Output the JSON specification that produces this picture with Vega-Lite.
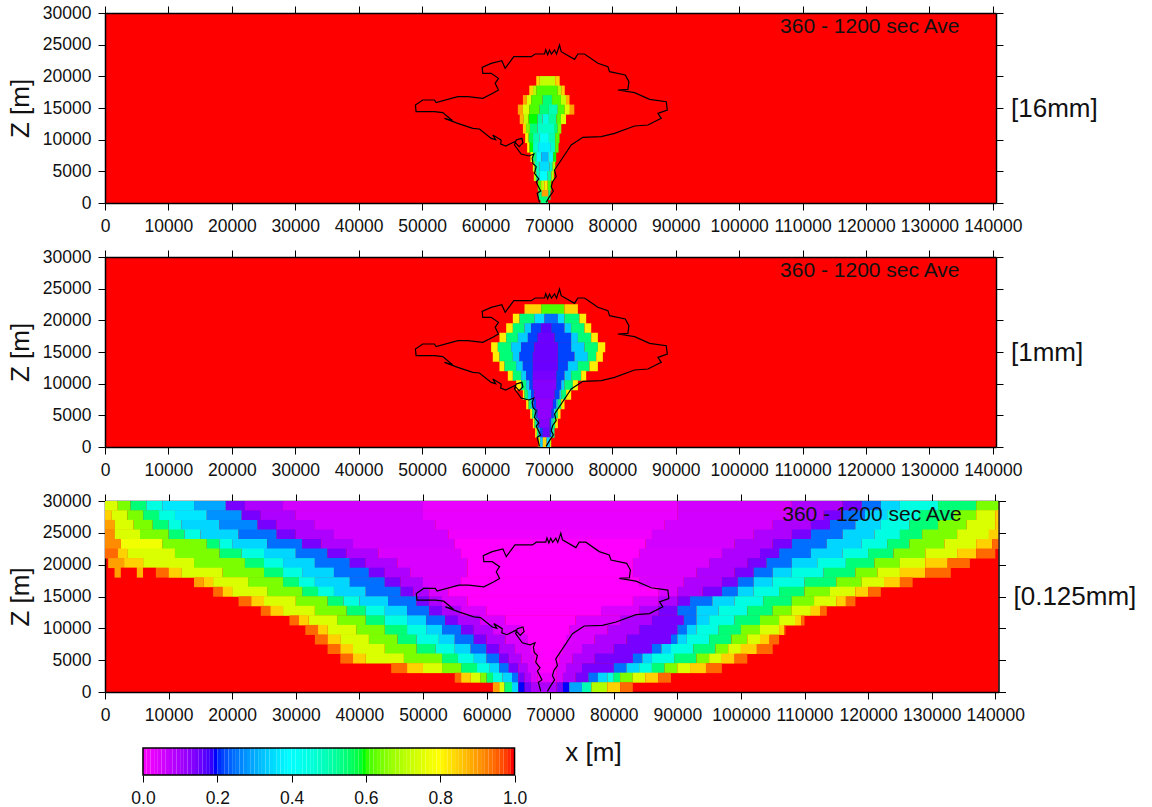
{"$schema":"https://vega.github.io/schema/vega-lite/v6.json","padding":{"left":7,"top":4,"right":0,"bottom":0},"background":"white","bounds":"flush","spacing":54,
"config":{"view":{"stroke":null},"font":"Liberation Sans","axis":{"grid":false,"domainColor":"#000","domainWidth":1.5,"tickColor":"#000","tickWidth":1,"tickSize":7,"labelColor":"#111","titleColor":"#111","labelFont":"Liberation Sans","titleFont":"Liberation Sans","labelFontSize":17.5,"titleFontSize":26,"titleFontWeight":"normal","labelOverlap":false,"labelFlush":false,"labelPadding":7}},
"datasets":{
"contour":[{"i":1,"x":68517,"z":100},{"i":2,"x":68149,"z":1527},{"i":2.5,"x":68700,"z":1900},{"i":3,"x":68359,"z":2580},{"i":3.5,"x":68000,"z":3300},{"i":3.7,"x":68400,"z":3800},{"i":4,"x":67728,"z":4685},{"i":5,"x":67991,"z":5738},{"i":5.5,"x":67500,"z":6200},{"i":6,"x":67360,"z":7054},{"i":7,"x":67623,"z":7738},{"i":8,"x":66834,"z":7422},{"i":9,"x":65624,"z":7738},{"i":10,"x":64572,"z":9158},{"i":11,"x":64835,"z":9948},{"i":12,"x":65729,"z":10211},{"i":12.5,"x":65900,"z":9500},{"i":12.7,"x":65300,"z":8900},{"i":13,"x":64572,"z":9685},{"i":13.5,"x":63200,"z":9000},{"i":13.7,"x":62400,"z":9300},{"i":14,"x":62468,"z":9948},{"i":15,"x":61153,"z":10738},{"i":15.5,"x":61600,"z":10000},{"i":15.7,"x":60900,"z":10200},{"i":16,"x":59049,"z":11685},{"i":17,"x":57997,"z":11790},{"i":18,"x":55630,"z":12580},{"i":19,"x":53526,"z":13369},{"i":19.5,"x":54800,"z":13000},{"i":20,"x":53263,"z":14264},{"i":21,"x":51948,"z":14422},{"i":22,"x":49055,"z":14422},{"i":23,"x":48950,"z":15474},{"i":24,"x":50107,"z":16264},{"i":25,"x":51948,"z":16264},{"i":26,"x":52211,"z":15843},{"i":27,"x":55630,"z":16790},{"i":28,"x":57208,"z":16790},{"i":29,"x":59575,"z":16527},{"i":30,"x":61153,"z":17316},{"i":31,"x":62047,"z":17843},{"i":32,"x":61521,"z":18895},{"i":33,"x":62047,"z":19685},{"i":34,"x":60890,"z":20474},{"i":35,"x":59575,"z":20474},{"i":36,"x":59470,"z":21422},{"i":37,"x":60890,"z":22053},{"i":38,"x":62573,"z":22474},{"i":39,"x":63099,"z":21263},{"i":40,"x":64467,"z":23106},{"i":41,"x":67202,"z":23106},{"i":42,"x":67833,"z":23527},{"i":43,"x":69306,"z":23527},{"i":43.3,"x":69500,"z":24200},{"i":43.5,"x":69800,"z":23400},{"i":44,"x":70095,"z":24158},{"i":44.5,"x":70400,"z":23500},{"i":45,"x":70884,"z":24158},{"i":45.5,"x":71200,"z":23500},{"i":46,"x":71673,"z":24948},{"i":47,"x":71936,"z":23895},{"i":48,"x":74040,"z":22685},{"i":49,"x":74566,"z":23527},{"i":50,"x":75618,"z":23527},{"i":51,"x":77722,"z":22053},{"i":52,"x":79300,"z":21527},{"i":53,"x":79563,"z":20737},{"i":54,"x":82035,"z":20211},{"i":55,"x":82614,"z":19158},{"i":56,"x":82456,"z":17948},{"i":57,"x":80878,"z":17842},{"i":58,"x":83508,"z":17421},{"i":59,"x":85875,"z":16369},{"i":60,"x":88505,"z":16000},{"i":61,"x":88663,"z":14685},{"i":62,"x":87190,"z":14158},{"i":63,"x":87716,"z":13369},{"i":64,"x":85612,"z":12316},{"i":65,"x":83508,"z":12158},{"i":66,"x":80352,"z":11000},{"i":67,"x":78248,"z":10474},{"i":68,"x":75355,"z":10369},{"i":69,"x":73514,"z":9158},{"i":70,"x":72988,"z":8369},{"i":71,"x":71410,"z":6000},{"i":72,"x":70884,"z":5211},{"i":73,"x":71147,"z":4158},{"i":73.5,"x":70600,"z":3400},{"i":74,"x":70358,"z":2580},{"i":74.5,"x":70700,"z":1900},{"i":75,"x":70095,"z":1000},{"i":76,"x":69569,"z":100}],
"note":[{"x":120600,"z":27800,"t":"360 - 1200 sec Ave"}],
"p1":[{"x":68000,"z":19250,"v":0.85},{"x":68500,"z":19250,"v":0.72},{"x":71000,"z":19250,"v":0.85},{"x":71700,"z":19250,"v":1},
{"x":66900,"z":17750,"v":0.85},{"x":67500,"z":17750,"v":0.7},{"x":68000,"z":17750,"v":0.62},{"x":71400,"z":17750,"v":0.7},{"x":72000,"z":17750,"v":0.85},{"x":72500,"z":17750,"v":1},
{"x":65900,"z":16250,"v":0.9},{"x":66500,"z":16250,"v":0.75},{"x":67200,"z":16250,"v":0.62},{"x":69000,"z":16250,"v":0.55},{"x":70500,"z":16250,"v":0.62},{"x":71900,"z":16250,"v":0.72},{"x":72700,"z":16250,"v":0.88},{"x":73250,"z":16250,"v":1},
{"x":65100,"z":14750,"v":0.9},{"x":65900,"z":14750,"v":0.75},{"x":66900,"z":14750,"v":0.62},{"x":68500,"z":14750,"v":0.55},{"x":70000,"z":14750,"v":0.5},{"x":71400,"z":14750,"v":0.62},{"x":72500,"z":14750,"v":0.75},{"x":73300,"z":14750,"v":0.9},{"x":74000,"z":14750,"v":1},
{"x":65400,"z":13250,"v":0.88},{"x":66000,"z":13250,"v":0.72},{"x":66800,"z":13250,"v":0.6},{"x":68200,"z":13250,"v":0.52},{"x":69000,"z":13250,"v":0.45},{"x":70000,"z":13250,"v":0.52},{"x":71200,"z":13250,"v":0.62},{"x":71900,"z":13250,"v":0.75},{"x":72700,"z":13250,"v":1},
{"x":65900,"z":11750,"v":0.85},{"x":66400,"z":11750,"v":0.65},{"x":67000,"z":11750,"v":0.55},{"x":68200,"z":11750,"v":0.48},{"x":70800,"z":11750,"v":0.55},{"x":71400,"z":11750,"v":0.65},{"x":71950,"z":11750,"v":1},
{"x":66250,"z":10250,"v":0.82},{"x":66800,"z":10250,"v":0.58},{"x":67500,"z":10250,"v":0.5},{"x":68500,"z":10250,"v":0.42},{"x":70000,"z":10250,"v":0.5},{"x":71000,"z":10250,"v":0.62},{"x":71670,"z":10250,"v":1},
{"x":66570,"z":8750,"v":0.8},{"x":66950,"z":8750,"v":0.6},{"x":67500,"z":8750,"v":0.48},{"x":68300,"z":8750,"v":0.38},{"x":70300,"z":8750,"v":0.48},{"x":71000,"z":8750,"v":0.62},{"x":71520,"z":8750,"v":1},
{"x":67100,"z":7250,"v":0.8},{"x":67500,"z":7250,"v":0.55},{"x":68000,"z":7250,"v":0.42},{"x":68800,"z":7250,"v":0.32},{"x":69900,"z":7250,"v":0.42},{"x":70700,"z":7250,"v":0.6},{"x":71150,"z":7250,"v":1},
{"x":67470,"z":5750,"v":0.75},{"x":67750,"z":5750,"v":0.5},{"x":68500,"z":5750,"v":0.36},{"x":70100,"z":5750,"v":0.5},{"x":70600,"z":5750,"v":0.68},{"x":71000,"z":5750,"v":1},
{"x":67620,"z":4250,"v":0.7},{"x":68000,"z":4250,"v":0.5},{"x":68500,"z":4250,"v":0.4},{"x":69800,"z":4250,"v":0.52},{"x":70400,"z":4250,"v":0.7},{"x":70780,"z":4250,"v":1},
{"x":68250,"z":2750,"v":0.62},{"x":68780,"z":2750,"v":0.72},{"x":69300,"z":2750,"v":0.82},{"x":69800,"z":2750,"v":0.62},{"x":70360,"z":2750,"v":1},
{"x":68360,"z":1250,"v":0.55},{"x":68880,"z":1250,"v":0.9},{"x":69900,"z":1250,"v":0.55},{"x":70250,"z":1250,"v":1},
{"x":68680,"z":250,"v":0.55},{"x":69830,"z":250,"v":1}],
"p2":[{"x":66150,"z":21750,"v":0.85},{"x":68780,"z":21750,"v":0.62},{"x":72460,"z":21750,"v":0.85},{"x":74570,"z":21750,"v":1},
{"x":64310,"z":20250,"v":0.82},{"x":65360,"z":20250,"v":0.55},{"x":67730,"z":20250,"v":0.36},{"x":69300,"z":20250,"v":0.25},{"x":71410,"z":20250,"v":0.36},{"x":72460,"z":20250,"v":0.55},{"x":74830,"z":20250,"v":0.82},{"x":75880,"z":20250,"v":1},
{"x":63260,"z":18750,"v":0.82},{"x":64310,"z":18750,"v":0.55},{"x":66150,"z":18750,"v":0.34},{"x":67200,"z":18750,"v":0.22},{"x":68780,"z":18750,"v":0.17},{"x":70360,"z":18750,"v":0.22},{"x":72460,"z":18750,"v":0.34},{"x":73510,"z":18750,"v":0.55},{"x":75620,"z":18750,"v":0.82},{"x":76670,"z":18750,"v":1},
{"x":62200,"z":17250,"v":0.82},{"x":63260,"z":17250,"v":0.55},{"x":65100,"z":17250,"v":0.34},{"x":66680,"z":17250,"v":0.22},{"x":68250,"z":17250,"v":0.16},{"x":70880,"z":17250,"v":0.22},{"x":73510,"z":17250,"v":0.34},{"x":74570,"z":17250,"v":0.55},{"x":76670,"z":17250,"v":0.82},{"x":77720,"z":17250,"v":1},
{"x":60890,"z":15750,"v":0.82},{"x":61940,"z":15750,"v":0.55},{"x":64050,"z":15750,"v":0.34},{"x":65620,"z":15750,"v":0.22},{"x":67730,"z":15750,"v":0.16},{"x":71410,"z":15750,"v":0.22},{"x":73510,"z":15750,"v":0.34},{"x":75620,"z":15750,"v":0.55},{"x":77720,"z":15750,"v":0.82},{"x":78880,"z":15750,"v":1},
{"x":61150,"z":14250,"v":0.82},{"x":62200,"z":14250,"v":0.55},{"x":64310,"z":14250,"v":0.34},{"x":65360,"z":14250,"v":0.22},{"x":67470,"z":14250,"v":0.16},{"x":71410,"z":14250,"v":0.22},{"x":74040,"z":14250,"v":0.34},{"x":76140,"z":14250,"v":0.55},{"x":77460,"z":14250,"v":0.82},{"x":78510,"z":14250,"v":1},
{"x":62200,"z":12750,"v":0.82},{"x":62990,"z":12750,"v":0.55},{"x":64830,"z":12750,"v":0.34},{"x":65890,"z":12750,"v":0.22},{"x":67470,"z":12750,"v":0.16},{"x":71410,"z":12750,"v":0.22},{"x":72990,"z":12750,"v":0.34},{"x":74570,"z":12750,"v":0.55},{"x":76410,"z":12750,"v":0.82},{"x":77720,"z":12750,"v":1},
{"x":63520,"z":11250,"v":0.82},{"x":64310,"z":11250,"v":0.55},{"x":65620,"z":11250,"v":0.34},{"x":66410,"z":11250,"v":0.22},{"x":67470,"z":11250,"v":0.15},{"x":71150,"z":11250,"v":0.22},{"x":72460,"z":11250,"v":0.34},{"x":73510,"z":11250,"v":0.55},{"x":75090,"z":11250,"v":0.82},{"x":75880,"z":11250,"v":1},
{"x":64830,"z":9750,"v":0.82},{"x":65620,"z":9750,"v":0.55},{"x":66410,"z":9750,"v":0.34},{"x":66940,"z":9750,"v":0.22},{"x":67470,"z":9750,"v":0.14},{"x":71150,"z":9750,"v":0.22},{"x":71940,"z":9750,"v":0.34},{"x":72460,"z":9750,"v":0.55},{"x":73780,"z":9750,"v":0.82},{"x":74570,"z":9750,"v":1},
{"x":65890,"z":8250,"v":0.82},{"x":66150,"z":8250,"v":0.55},{"x":66680,"z":8250,"v":0.34},{"x":67200,"z":8250,"v":0.22},{"x":67730,"z":8250,"v":0.14},{"x":70880,"z":8250,"v":0.22},{"x":71670,"z":8250,"v":0.34},{"x":71940,"z":8250,"v":0.55},{"x":72720,"z":8250,"v":0.82},{"x":73510,"z":8250,"v":1},
{"x":66410,"z":6750,"v":0.82},{"x":66780,"z":6750,"v":0.55},{"x":67200,"z":6750,"v":0.34},{"x":67570,"z":6750,"v":0.22},{"x":67990,"z":6750,"v":0.13},{"x":70620,"z":6750,"v":0.22},{"x":71150,"z":6750,"v":0.34},{"x":71410,"z":6750,"v":0.55},{"x":71940,"z":6750,"v":0.82},{"x":72460,"z":6750,"v":1},
{"x":67040,"z":5250,"v":0.82},{"x":67360,"z":5250,"v":0.55},{"x":67730,"z":5250,"v":0.34},{"x":67990,"z":5250,"v":0.22},{"x":68250,"z":5250,"v":0.13},{"x":70360,"z":5250,"v":0.22},{"x":70780,"z":5250,"v":0.34},{"x":70990,"z":5250,"v":0.55},{"x":71410,"z":5250,"v":0.82},{"x":71830,"z":5250,"v":1},
{"x":67470,"z":3750,"v":0.82},{"x":67730,"z":3750,"v":0.55},{"x":67990,"z":3750,"v":0.34},{"x":68250,"z":3750,"v":0.22},{"x":68520,"z":3750,"v":0.14},{"x":70090,"z":3750,"v":0.22},{"x":70360,"z":3750,"v":0.34},{"x":70620,"z":3750,"v":0.55},{"x":70990,"z":3750,"v":0.82},{"x":71410,"z":3750,"v":1},
{"x":67830,"z":2250,"v":0.82},{"x":68100,"z":2250,"v":0.55},{"x":68360,"z":2250,"v":0.34},{"x":68570,"z":2250,"v":0.22},{"x":69040,"z":2250,"v":0.16},{"x":70090,"z":2250,"v":0.22},{"x":70360,"z":2250,"v":0.34},{"x":70620,"z":2250,"v":0.55},{"x":70880,"z":2250,"v":1},
{"x":68360,"z":750,"v":0.7},{"x":68620,"z":750,"v":0.35},{"x":69040,"z":750,"v":0.85},{"x":69620,"z":750,"v":0.35},{"x":70150,"z":750,"v":0.7},{"x":70360,"z":750,"v":1}],
"p3":[{"x":0,"z":29250,"v":0.75},{"x":2000,"z":29250,"v":0.65},{"x":4000,"z":29250,"v":0.55},{"x":6500,"z":29250,"v":0.45},{"x":9000,"z":29250,"v":0.37},{"x":14000,"z":29250,"v":0.3},{"x":19000,"z":29250,"v":0.15},{"x":22000,"z":29250,"v":0.1},{"x":28000,"z":29250,"v":0.06},{"x":50000,"z":29250,"v":0.03},{"x":90000,"z":29250,"v":0.06},{"x":108000,"z":29250,"v":0.1},{"x":116000,"z":29250,"v":0.15},{"x":119000,"z":29250,"v":0.25},{"x":122000,"z":29250,"v":0.35},{"x":125000,"z":29250,"v":0.45},{"x":131000,"z":29250,"v":0.55},{"x":137000,"z":29250,"v":0.65},{"x":140500,"z":29250,"v":1},
{"x":0,"z":27750,"v":0.85},{"x":1000,"z":27750,"v":0.75},{"x":3500,"z":27750,"v":0.65},{"x":6000,"z":27750,"v":0.55},{"x":8500,"z":27750,"v":0.45},{"x":11000,"z":27750,"v":0.37},{"x":16000,"z":27750,"v":0.28},{"x":21500,"z":27750,"v":0.15},{"x":24500,"z":27750,"v":0.1},{"x":30000,"z":27750,"v":0.06},{"x":50000,"z":27750,"v":0.03},{"x":90000,"z":27750,"v":0.06},{"x":108000,"z":27750,"v":0.1},{"x":113000,"z":27750,"v":0.15},{"x":116000,"z":27750,"v":0.25},{"x":119500,"z":27750,"v":0.35},{"x":123000,"z":27750,"v":0.45},{"x":128000,"z":27750,"v":0.55},{"x":133500,"z":27750,"v":0.65},{"x":137000,"z":27750,"v":0.75},{"x":140000,"z":27750,"v":0.85},{"x":140500,"z":27750,"v":1},
{"x":0,"z":26250,"v":0.9},{"x":1500,"z":26250,"v":0.75},{"x":4500,"z":26250,"v":0.65},{"x":7500,"z":26250,"v":0.55},{"x":10000,"z":26250,"v":0.45},{"x":12000,"z":26250,"v":0.35},{"x":18000,"z":26250,"v":0.27},{"x":24000,"z":26250,"v":0.15},{"x":27000,"z":26250,"v":0.1},{"x":33000,"z":26250,"v":0.06},{"x":52000,"z":26250,"v":0.03},{"x":88000,"z":26250,"v":0.06},{"x":105000,"z":26250,"v":0.1},{"x":111000,"z":26250,"v":0.15},{"x":114000,"z":26250,"v":0.25},{"x":118000,"z":26250,"v":0.35},{"x":122000,"z":26250,"v":0.45},{"x":126500,"z":26250,"v":0.55},{"x":131000,"z":26250,"v":0.65},{"x":135500,"z":26250,"v":0.75},{"x":140000,"z":26250,"v":0.85},{"x":140500,"z":26250,"v":1},
{"x":0,"z":24750,"v":0.92},{"x":1500,"z":24750,"v":0.75},{"x":5500,"z":24750,"v":0.65},{"x":10000,"z":24750,"v":0.55},{"x":12500,"z":24750,"v":0.45},{"x":15000,"z":24750,"v":0.35},{"x":21000,"z":24750,"v":0.25},{"x":27000,"z":24750,"v":0.15},{"x":30000,"z":24750,"v":0.1},{"x":36000,"z":24750,"v":0.06},{"x":54000,"z":24750,"v":0.02},{"x":86000,"z":24750,"v":0.06},{"x":102000,"z":24750,"v":0.1},{"x":108000,"z":24750,"v":0.15},{"x":111000,"z":24750,"v":0.25},{"x":116000,"z":24750,"v":0.35},{"x":121000,"z":24750,"v":0.45},{"x":125000,"z":24750,"v":0.55},{"x":128500,"z":24750,"v":0.65},{"x":134000,"z":24750,"v":0.75},{"x":139000,"z":24750,"v":0.85},{"x":140500,"z":24750,"v":1},
{"x":0,"z":23250,"v":0.92},{"x":2500,"z":23250,"v":0.78},{"x":9000,"z":23250,"v":0.65},{"x":16000,"z":23250,"v":0.55},{"x":18000,"z":23250,"v":0.45},{"x":20000,"z":23250,"v":0.35},{"x":25500,"z":23250,"v":0.25},{"x":31000,"z":23250,"v":0.15},{"x":34000,"z":23250,"v":0.1},{"x":39000,"z":23250,"v":0.06},{"x":55000,"z":23250,"v":0},{"x":85000,"z":23250,"v":0.06},{"x":99000,"z":23250,"v":0.1},{"x":105000,"z":23250,"v":0.15},{"x":108000,"z":23250,"v":0.25},{"x":113500,"z":23250,"v":0.35},{"x":119000,"z":23250,"v":0.45},{"x":123000,"z":23250,"v":0.55},{"x":126500,"z":23250,"v":0.65},{"x":132000,"z":23250,"v":0.75},{"x":137000,"z":23250,"v":0.85},{"x":139500,"z":23250,"v":0.95},{"x":140500,"z":23250,"v":1},
{"x":0,"z":21750,"v":0.95},{"x":2000,"z":21750,"v":0.85},{"x":3500,"z":21750,"v":0.75},{"x":11000,"z":21750,"v":0.65},{"x":18000,"z":21750,"v":0.55},{"x":21500,"z":21750,"v":0.45},{"x":25000,"z":21750,"v":0.35},{"x":30000,"z":21750,"v":0.25},{"x":35000,"z":21750,"v":0.15},{"x":38000,"z":21750,"v":0.1},{"x":43000,"z":21750,"v":0.05},{"x":56000,"z":21750,"v":0},{"x":84000,"z":21750,"v":0.05},{"x":97000,"z":21750,"v":0.1},{"x":103000,"z":21750,"v":0.15},{"x":106000,"z":21750,"v":0.25},{"x":111000,"z":21750,"v":0.35},{"x":116000,"z":21750,"v":0.45},{"x":120000,"z":21750,"v":0.55},{"x":124000,"z":21750,"v":0.65},{"x":129000,"z":21750,"v":0.75},{"x":134000,"z":21750,"v":0.85},{"x":137000,"z":21750,"v":0.95},{"x":140000,"z":21750,"v":1},
{"x":500,"z":20250,"v":0.9},{"x":3000,"z":20250,"v":0.85},{"x":6000,"z":20250,"v":0.75},{"x":14000,"z":20250,"v":0.65},{"x":22000,"z":20250,"v":0.55},{"x":25000,"z":20250,"v":0.45},{"x":28000,"z":20250,"v":0.35},{"x":33000,"z":20250,"v":0.25},{"x":38500,"z":20250,"v":0.15},{"x":41000,"z":20250,"v":0.1},{"x":46000,"z":20250,"v":0.05},{"x":57000,"z":20250,"v":0},{"x":83000,"z":20250,"v":0.05},{"x":95000,"z":20250,"v":0.1},{"x":101000,"z":20250,"v":0.15},{"x":104000,"z":20250,"v":0.25},{"x":108000,"z":20250,"v":0.35},{"x":112000,"z":20250,"v":0.45},{"x":116500,"z":20250,"v":0.55},{"x":121000,"z":20250,"v":0.65},{"x":125000,"z":20250,"v":0.75},{"x":129000,"z":20250,"v":0.85},{"x":132500,"z":20250,"v":0.95},{"x":136000,"z":20250,"v":1},
{"x":1500,"z":18750,"v":0.9},{"x":2500,"z":18750,"v":1},{"x":5000,"z":18750,"v":0.88},{"x":6000,"z":18750,"v":1},{"x":8000,"z":18750,"v":0.95},{"x":10000,"z":18750,"v":0.85},{"x":12000,"z":18750,"v":0.75},{"x":18500,"z":18750,"v":0.65},{"x":25000,"z":18750,"v":0.55},{"x":28000,"z":18750,"v":0.45},{"x":31000,"z":18750,"v":0.35},{"x":36000,"z":18750,"v":0.25},{"x":41500,"z":18750,"v":0.15},{"x":44000,"z":18750,"v":0.1},{"x":48000,"z":18750,"v":0.05},{"x":57000,"z":18750,"v":0},{"x":83000,"z":18750,"v":0.05},{"x":93000,"z":18750,"v":0.1},{"x":99000,"z":18750,"v":0.15},{"x":102000,"z":18750,"v":0.25},{"x":105000,"z":18750,"v":0.35},{"x":108000,"z":18750,"v":0.45},{"x":113000,"z":18750,"v":0.55},{"x":118000,"z":18750,"v":0.65},{"x":121500,"z":18750,"v":0.75},{"x":125000,"z":18750,"v":0.85},{"x":129000,"z":18750,"v":0.95},{"x":133000,"z":18750,"v":1},
{"x":14000,"z":17250,"v":0.9},{"x":15500,"z":17250,"v":0.85},{"x":17000,"z":17250,"v":0.75},{"x":22500,"z":17250,"v":0.65},{"x":28000,"z":17250,"v":0.55},{"x":30500,"z":17250,"v":0.45},{"x":33000,"z":17250,"v":0.35},{"x":38500,"z":17250,"v":0.25},{"x":44000,"z":17250,"v":0.15},{"x":46500,"z":17250,"v":0.1},{"x":50000,"z":17250,"v":0.05},{"x":56000,"z":17250,"v":0},{"x":84000,"z":17250,"v":0.05},{"x":91000,"z":17250,"v":0.1},{"x":97000,"z":17250,"v":0.15},{"x":99500,"z":17250,"v":0.25},{"x":102000,"z":17250,"v":0.35},{"x":105000,"z":17250,"v":0.45},{"x":110000,"z":17250,"v":0.55},{"x":115000,"z":17250,"v":0.65},{"x":119000,"z":17250,"v":0.75},{"x":122500,"z":17250,"v":0.85},{"x":125000,"z":17250,"v":0.95},{"x":127000,"z":17250,"v":1},
{"x":17000,"z":15750,"v":0.95},{"x":18500,"z":15750,"v":0.85},{"x":20000,"z":15750,"v":0.75},{"x":25500,"z":15750,"v":0.65},{"x":31000,"z":15750,"v":0.55},{"x":33500,"z":15750,"v":0.45},{"x":36000,"z":15750,"v":0.35},{"x":41000,"z":15750,"v":0.25},{"x":46500,"z":15750,"v":0.15},{"x":48500,"z":15750,"v":0.1},{"x":51000,"z":15750,"v":0.05},{"x":54000,"z":15750,"v":0},{"x":87000,"z":15750,"v":0.05},{"x":90000,"z":15750,"v":0.1},{"x":94000,"z":15750,"v":0.15},{"x":97000,"z":15750,"v":0.25},{"x":99500,"z":15750,"v":0.35},{"x":102000,"z":15750,"v":0.45},{"x":106000,"z":15750,"v":0.55},{"x":110000,"z":15750,"v":0.65},{"x":114000,"z":15750,"v":0.75},{"x":118000,"z":15750,"v":0.85},{"x":120000,"z":15750,"v":0.95},{"x":122000,"z":15750,"v":1},
{"x":21000,"z":14250,"v":0.95},{"x":23000,"z":14250,"v":0.85},{"x":25000,"z":14250,"v":0.75},{"x":30000,"z":14250,"v":0.65},{"x":35000,"z":14250,"v":0.55},{"x":37500,"z":14250,"v":0.45},{"x":40000,"z":14250,"v":0.35},{"x":44500,"z":14250,"v":0.25},{"x":49000,"z":14250,"v":0.15},{"x":51000,"z":14250,"v":0.1},{"x":53000,"z":14250,"v":0.05},{"x":57000,"z":14250,"v":0},{"x":83000,"z":14250,"v":0.05},{"x":87000,"z":14250,"v":0.1},{"x":90000,"z":14250,"v":0.15},{"x":92000,"z":14250,"v":0.25},{"x":95500,"z":14250,"v":0.35},{"x":99000,"z":14250,"v":0.45},{"x":103500,"z":14250,"v":0.55},{"x":108000,"z":14250,"v":0.65},{"x":111500,"z":14250,"v":0.75},{"x":115000,"z":14250,"v":0.85},{"x":116500,"z":14250,"v":0.95},{"x":118000,"z":14250,"v":1},
{"x":24500,"z":12750,"v":0.95},{"x":26000,"z":12750,"v":0.85},{"x":28000,"z":12750,"v":0.75},{"x":33000,"z":12750,"v":0.65},{"x":38000,"z":12750,"v":0.55},{"x":41000,"z":12750,"v":0.45},{"x":44000,"z":12750,"v":0.35},{"x":47500,"z":12750,"v":0.25},{"x":51000,"z":12750,"v":0.15},{"x":53000,"z":12750,"v":0.1},{"x":56000,"z":12750,"v":0.05},{"x":60000,"z":12750,"v":0},{"x":78000,"z":12750,"v":0.05},{"x":84000,"z":12750,"v":0.1},{"x":87000,"z":12750,"v":0.15},{"x":90000,"z":12750,"v":0.25},{"x":93000,"z":12750,"v":0.35},{"x":96500,"z":12750,"v":0.45},{"x":101000,"z":12750,"v":0.55},{"x":105000,"z":12750,"v":0.65},{"x":108000,"z":12750,"v":0.75},{"x":111000,"z":12750,"v":0.85},{"x":112500,"z":12750,"v":0.95},{"x":113500,"z":12750,"v":1},
{"x":29000,"z":11250,"v":0.95},{"x":30500,"z":11250,"v":0.85},{"x":32000,"z":11250,"v":0.75},{"x":36500,"z":11250,"v":0.65},{"x":41000,"z":11250,"v":0.55},{"x":44000,"z":11250,"v":0.45},{"x":47500,"z":11250,"v":0.35},{"x":50500,"z":11250,"v":0.25},{"x":53500,"z":11250,"v":0.15},{"x":55500,"z":11250,"v":0.1},{"x":59000,"z":11250,"v":0.05},{"x":63000,"z":11250,"v":0},{"x":74000,"z":11250,"v":0.05},{"x":81000,"z":11250,"v":0.1},{"x":86000,"z":11250,"v":0.15},{"x":91000,"z":11250,"v":0.25},{"x":93000,"z":11250,"v":0.35},{"x":95000,"z":11250,"v":0.45},{"x":99000,"z":11250,"v":0.55},{"x":103000,"z":11250,"v":0.65},{"x":106000,"z":11250,"v":0.75},{"x":108500,"z":11250,"v":0.85},{"x":109500,"z":11250,"v":0.95},{"x":110000,"z":11250,"v":1},
{"x":31500,"z":9750,"v":0.95},{"x":33500,"z":9750,"v":0.85},{"x":35000,"z":9750,"v":0.75},{"x":39500,"z":9750,"v":0.65},{"x":44000,"z":9750,"v":0.55},{"x":47500,"z":9750,"v":0.45},{"x":50500,"z":9750,"v":0.35},{"x":53000,"z":9750,"v":0.25},{"x":56000,"z":9750,"v":0.15},{"x":58000,"z":9750,"v":0.1},{"x":61000,"z":9750,"v":0.05},{"x":65500,"z":9750,"v":0},{"x":73000,"z":9750,"v":0.05},{"x":79000,"z":9750,"v":0.1},{"x":84000,"z":9750,"v":0.15},{"x":90000,"z":9750,"v":0.25},{"x":91500,"z":9750,"v":0.35},{"x":93000,"z":9750,"v":0.45},{"x":96500,"z":9750,"v":0.55},{"x":100000,"z":9750,"v":0.65},{"x":103000,"z":9750,"v":0.75},{"x":106000,"z":9750,"v":0.85},{"x":106800,"z":9750,"v":0.95},{"x":107000,"z":9750,"v":1},
{"x":33000,"z":8250,"v":0.95},{"x":35000,"z":8250,"v":0.85},{"x":37000,"z":8250,"v":0.75},{"x":41500,"z":8250,"v":0.65},{"x":46000,"z":8250,"v":0.55},{"x":49000,"z":8250,"v":0.45},{"x":52500,"z":8250,"v":0.35},{"x":55000,"z":8250,"v":0.25},{"x":58000,"z":8250,"v":0.15},{"x":60000,"z":8250,"v":0.1},{"x":63000,"z":8250,"v":0.05},{"x":66500,"z":8250,"v":0},{"x":72500,"z":8250,"v":0.05},{"x":77000,"z":8250,"v":0.1},{"x":82000,"z":8250,"v":0.15},{"x":89000,"z":8250,"v":0.25},{"x":90000,"z":8250,"v":0.35},{"x":91500,"z":8250,"v":0.45},{"x":95000,"z":8250,"v":0.55},{"x":98500,"z":8250,"v":0.65},{"x":101000,"z":8250,"v":0.75},{"x":103000,"z":8250,"v":0.85},{"x":104500,"z":8250,"v":0.95},{"x":106000,"z":8250,"v":1},
{"x":35000,"z":6750,"v":0.95},{"x":37000,"z":6750,"v":0.85},{"x":39000,"z":6750,"v":0.75},{"x":44000,"z":6750,"v":0.65},{"x":49000,"z":6750,"v":0.55},{"x":52000,"z":6750,"v":0.45},{"x":55000,"z":6750,"v":0.35},{"x":57500,"z":6750,"v":0.25},{"x":60000,"z":6750,"v":0.15},{"x":62000,"z":6750,"v":0.1},{"x":64500,"z":6750,"v":0.05},{"x":67000,"z":6750,"v":0},{"x":72000,"z":6750,"v":0.05},{"x":75000,"z":6750,"v":0.1},{"x":80000,"z":6750,"v":0.15},{"x":86000,"z":6750,"v":0.25},{"x":87500,"z":6750,"v":0.35},{"x":89000,"z":6750,"v":0.45},{"x":92500,"z":6750,"v":0.55},{"x":96000,"z":6750,"v":0.65},{"x":98000,"z":6750,"v":0.75},{"x":100000,"z":6750,"v":0.85},{"x":102500,"z":6750,"v":0.95},{"x":105000,"z":6750,"v":1},
{"x":37000,"z":5250,"v":0.95},{"x":39000,"z":5250,"v":0.85},{"x":41000,"z":5250,"v":0.75},{"x":47000,"z":5250,"v":0.65},{"x":53000,"z":5250,"v":0.55},{"x":55500,"z":5250,"v":0.45},{"x":58000,"z":5250,"v":0.35},{"x":60000,"z":5250,"v":0.25},{"x":62000,"z":5250,"v":0.15},{"x":63500,"z":5250,"v":0.1},{"x":65500,"z":5250,"v":0.05},{"x":67500,"z":5250,"v":0},{"x":71500,"z":5250,"v":0.05},{"x":73500,"z":5250,"v":0.1},{"x":77000,"z":5250,"v":0.15},{"x":83000,"z":5250,"v":0.25},{"x":84500,"z":5250,"v":0.35},{"x":86000,"z":5250,"v":0.45},{"x":89500,"z":5250,"v":0.55},{"x":93000,"z":5250,"v":0.65},{"x":95000,"z":5250,"v":0.75},{"x":97000,"z":5250,"v":0.85},{"x":99000,"z":5250,"v":0.95},{"x":101000,"z":5250,"v":1},
{"x":45000,"z":3750,"v":0.95},{"x":47500,"z":3750,"v":0.85},{"x":50000,"z":3750,"v":0.75},{"x":53000,"z":3750,"v":0.65},{"x":56000,"z":3750,"v":0.55},{"x":58500,"z":3750,"v":0.45},{"x":60500,"z":3750,"v":0.35},{"x":62000,"z":3750,"v":0.25},{"x":63500,"z":3750,"v":0.15},{"x":65000,"z":3750,"v":0.1},{"x":66500,"z":3750,"v":0.05},{"x":68000,"z":3750,"v":0},{"x":71000,"z":3750,"v":0.05},{"x":72500,"z":3750,"v":0.1},{"x":75000,"z":3750,"v":0.15},{"x":80000,"z":3750,"v":0.25},{"x":82000,"z":3750,"v":0.35},{"x":84000,"z":3750,"v":0.45},{"x":86000,"z":3750,"v":0.55},{"x":88000,"z":3750,"v":0.65},{"x":90000,"z":3750,"v":0.75},{"x":92000,"z":3750,"v":0.85},{"x":94500,"z":3750,"v":0.95},{"x":97000,"z":3750,"v":1},
{"x":55000,"z":2250,"v":0.95},{"x":56000,"z":2250,"v":0.85},{"x":57500,"z":2250,"v":0.75},{"x":59000,"z":2250,"v":0.65},{"x":60000,"z":2250,"v":0.55},{"x":61000,"z":2250,"v":0.45},{"x":62500,"z":2250,"v":0.35},{"x":64000,"z":2250,"v":0.25},{"x":65000,"z":2250,"v":0.15},{"x":66000,"z":2250,"v":0.1},{"x":67000,"z":2250,"v":0.05},{"x":68000,"z":2250,"v":0.03},{"x":71000,"z":2250,"v":0.05},{"x":72000,"z":2250,"v":0.1},{"x":74000,"z":2250,"v":0.15},{"x":76000,"z":2250,"v":0.25},{"x":77500,"z":2250,"v":0.35},{"x":79000,"z":2250,"v":0.45},{"x":80000,"z":2250,"v":0.55},{"x":81000,"z":2250,"v":0.65},{"x":83000,"z":2250,"v":0.75},{"x":85000,"z":2250,"v":0.85},{"x":87000,"z":2250,"v":0.95},{"x":89000,"z":2250,"v":1},
{"x":61000,"z":750,"v":0.9},{"x":62000,"z":750,"v":0.75},{"x":62800,"z":750,"v":0.55},{"x":64000,"z":750,"v":0.35},{"x":65000,"z":750,"v":0.2},{"x":66000,"z":750,"v":0.15},{"x":67000,"z":750,"v":0.1},{"x":71000,"z":750,"v":0.15},{"x":72000,"z":750,"v":0.2},{"x":73000,"z":750,"v":0.3},{"x":75000,"z":750,"v":0.5},{"x":76500,"z":750,"v":0.7},{"x":79000,"z":750,"v":0.85},{"x":81000,"z":750,"v":0.95},{"x":83000,"z":750,"v":1}],
"bar":[{"v":0},{"v":0.01},{"v":0.02},{"v":0.03},{"v":0.04},{"v":0.05},{"v":0.06},{"v":0.07},{"v":0.08},{"v":0.09},{"v":0.1},{"v":0.11},{"v":0.12},{"v":0.13},{"v":0.14},{"v":0.15},{"v":0.16},{"v":0.17},{"v":0.18},{"v":0.19},{"v":0.2},{"v":0.21},{"v":0.22},{"v":0.23},{"v":0.24},{"v":0.25},{"v":0.26},{"v":0.27},{"v":0.28},{"v":0.29},{"v":0.3},{"v":0.31},{"v":0.32},{"v":0.33},{"v":0.34},{"v":0.35},{"v":0.36},{"v":0.37},{"v":0.38},{"v":0.39},{"v":0.4},{"v":0.41},{"v":0.42},{"v":0.43},{"v":0.44},{"v":0.45},{"v":0.46},{"v":0.47},{"v":0.48},{"v":0.49},{"v":0.5},{"v":0.51},{"v":0.52},{"v":0.53},{"v":0.54},{"v":0.55},{"v":0.56},{"v":0.57},{"v":0.58},{"v":0.59},{"v":0.6},{"v":0.61},{"v":0.62},{"v":0.63},{"v":0.64},{"v":0.65},{"v":0.66},{"v":0.67},{"v":0.68},{"v":0.69},{"v":0.7},{"v":0.71},{"v":0.72},{"v":0.73},{"v":0.74},{"v":0.75},{"v":0.76},{"v":0.77},{"v":0.78},{"v":0.79},{"v":0.8},{"v":0.81},{"v":0.82},{"v":0.83},{"v":0.84},{"v":0.85},{"v":0.86},{"v":0.87},{"v":0.88},{"v":0.89},{"v":0.9},{"v":0.91},{"v":0.92},{"v":0.93},{"v":0.94},{"v":0.95},{"v":0.96},{"v":0.97},{"v":0.98},{"v":0.99},{"v":1}]
},
"vconcat":[
{"width":891,"height":190,"view":{"fill":"#ff0000","stroke":null},"layer":[
{"data":{"name":"p1"},"transform":[{"window":[{"op":"lead","field":"x","as":"x2"}],"groupby":["z"],"sort":[{"field":"x","order":"ascending"}]},{"filter":"isValid(datum.x2)"}],"mark":{"type":"rect","height":10,"clip":true},"encoding":{"x":{"field":"x","type":"quantitative","scale":{"domain":[0,140500],"nice":false},"axis":{"orient":"bottom","title":null,"values":[0,10000,20000,30000,40000,50000,60000,70000,80000,90000,100000,110000,120000,130000,140000],"format":"d"}},"x2":{"field":"x2"},"y":{"field":"z","type":"quantitative","scale":{"domain":[0,30000],"nice":false},"axis":{"orient":"left","title":"Z [m]","values":[0,5000,10000,15000,20000,25000,30000],"format":"d","titlePadding":9}},"color":{"field":"v","type":"quantitative","scale":{"domain":[0,0.2,0.4,0.6,0.8,1],"range":["#ff00ff","#0000ff","#00ffff","#00ff00","#ffff00","#ff0000"]},"legend":null}}},
{"data":{"name":"contour"},"mark":{"type":"line","color":"#000","strokeWidth":1.2},"encoding":{"x":{"field":"x","type":"quantitative","axis":{"orient":"top","title":null,"labels":false,"values":[0,10000,20000,30000,40000,50000,60000,70000,80000,90000,100000,110000,120000,130000,140000]}},"y":{"field":"z","type":"quantitative","axis":{"orient":"right","labels":false,"title":"[16mm]","titleAngle":0,"titleAlign":"left","titleBaseline":"middle","titlePadding":7,"values":[0,5000,10000,15000,20000,25000,30000]}},"order":{"field":"i","type":"quantitative"}}},
{"data":{"name":"note"},"mark":{"type":"text","fontSize":21,"color":"#111","font":"Liberation Sans"},"encoding":{"x":{"field":"x","type":"quantitative","axis":null},"y":{"field":"z","type":"quantitative","axis":null},"text":{"field":"t"}}}
],"resolve":{"axis":{"x":"independent","y":"independent"}}},
{"width":891,"height":190,"view":{"fill":"#ff0000","stroke":null},"layer":[
{"data":{"name":"p2"},"transform":[{"window":[{"op":"lead","field":"x","as":"x2"}],"groupby":["z"],"sort":[{"field":"x","order":"ascending"}]},{"filter":"isValid(datum.x2)"}],"mark":{"type":"rect","height":10,"clip":true},"encoding":{"x":{"field":"x","type":"quantitative","scale":{"domain":[0,140500],"nice":false},"axis":{"orient":"bottom","title":null,"values":[0,10000,20000,30000,40000,50000,60000,70000,80000,90000,100000,110000,120000,130000,140000],"format":"d"}},"x2":{"field":"x2"},"y":{"field":"z","type":"quantitative","scale":{"domain":[0,30000],"nice":false},"axis":{"orient":"left","title":"Z [m]","values":[0,5000,10000,15000,20000,25000,30000],"format":"d","titlePadding":9}},"color":{"field":"v","type":"quantitative","scale":{"domain":[0,0.2,0.4,0.6,0.8,1],"range":["#ff00ff","#0000ff","#00ffff","#00ff00","#ffff00","#ff0000"]},"legend":null}}},
{"data":{"name":"contour"},"mark":{"type":"line","color":"#000","strokeWidth":1.2},"encoding":{"x":{"field":"x","type":"quantitative","axis":{"orient":"top","title":null,"labels":false,"values":[0,10000,20000,30000,40000,50000,60000,70000,80000,90000,100000,110000,120000,130000,140000]}},"y":{"field":"z","type":"quantitative","axis":{"orient":"right","labels":false,"title":"[1mm]","titleAngle":0,"titleAlign":"left","titleBaseline":"middle","titlePadding":7,"values":[0,5000,10000,15000,20000,25000,30000]}},"order":{"field":"i","type":"quantitative"}}},
{"data":{"name":"note"},"mark":{"type":"text","fontSize":21,"color":"#111","font":"Liberation Sans"},"encoding":{"x":{"field":"x","type":"quantitative","axis":null},"y":{"field":"z","type":"quantitative","axis":null},"text":{"field":"t"}}}
],"resolve":{"axis":{"x":"independent","y":"independent"}}},
{"width":893.5,"height":191,"view":{"fill":"#ff0000","stroke":null},"layer":[
{"data":{"name":"p3"},"transform":[{"window":[{"op":"lead","field":"x","as":"x2"}],"groupby":["z"],"sort":[{"field":"x","order":"ascending"}]},{"filter":"isValid(datum.x2)"}],"mark":{"type":"rect","height":10,"clip":true},"encoding":{"x":{"field":"x","type":"quantitative","scale":{"domain":[0,140500],"nice":false},"axis":{"orient":"bottom","title":null,"values":[0,10000,20000,30000,40000,50000,60000,70000,80000,90000,100000,110000,120000,130000,140000],"format":"d"}},"x2":{"field":"x2"},"y":{"field":"z","type":"quantitative","scale":{"domain":[0,30000],"nice":false},"axis":{"orient":"left","title":"Z [m]","values":[0,5000,10000,15000,20000,25000,30000],"format":"d","titlePadding":9}},"color":{"field":"v","type":"quantitative","scale":{"domain":[0,0.2,0.4,0.6,0.8,1],"range":["#ff00ff","#0000ff","#00ffff","#00ff00","#ffff00","#ff0000"]},"legend":null}}},
{"data":{"name":"contour"},"mark":{"type":"line","color":"#000","strokeWidth":1.2},"encoding":{"x":{"field":"x","type":"quantitative","axis":{"orient":"top","title":null,"labels":false,"values":[0,10000,20000,30000,40000,50000,60000,70000,80000,90000,100000,110000,120000,130000,140000]}},"y":{"field":"z","type":"quantitative","axis":{"orient":"right","labels":false,"title":"[0.125mm]","titleAngle":0,"titleAlign":"left","titleBaseline":"middle","titlePadding":7,"values":[0,5000,10000,15000,20000,25000,30000]}},"order":{"field":"i","type":"quantitative"}}},
{"data":{"name":"note"},"mark":{"type":"text","fontSize":21,"color":"#111","font":"Liberation Sans"},"encoding":{"x":{"field":"x","type":"quantitative","axis":null},"y":{"field":"z","type":"quantitative","axis":null},"text":{"field":"t"}}}
],"resolve":{"axis":{"x":"independent","y":"independent"}}},
{"width":891,"height":29,"layer":[
{"data":{"name":"bar"},"transform":[{"window":[{"op":"lag","field":"v","as":"v2"}],"sort":[{"field":"v","order":"ascending"}]},{"filter":"isValid(datum.v2)"}],"mark":{"type":"rect"},"encoding":{"x":{"field":"v","type":"quantitative","scale":{"domain":[-0.1022,2.2957],"nice":false},"axis":{"orient":"bottom","domain":false,"values":[0,0.2,0.4,0.6,0.8,1],"format":".1f","title":"x [m]","titleX":488,"titleY":-23,"titleBaseline":"middle","titleAlign":"center"}},"x2":{"field":"v2"},"y":{"datum":0,"type":"quantitative","scale":{"domain":[0,29],"nice":false},"axis":null},"y2":{"datum":27},"color":{"field":"v","type":"quantitative","scale":{"domain":[0,0.2,0.4,0.6,0.8,1],"range":["#ff00ff","#0000ff","#00ffff","#00ff00","#ffff00","#ff0000"]},"legend":null}}},
{"data":{"values":[{"v":0,"v2":1}]},"mark":{"type":"rect","fill":null,"stroke":"#000","strokeWidth":1.5},"encoding":{"x":{"field":"v","type":"quantitative"},"x2":{"field":"v2"},"y":{"datum":0,"type":"quantitative"},"y2":{"datum":27}}}
]}
]}
